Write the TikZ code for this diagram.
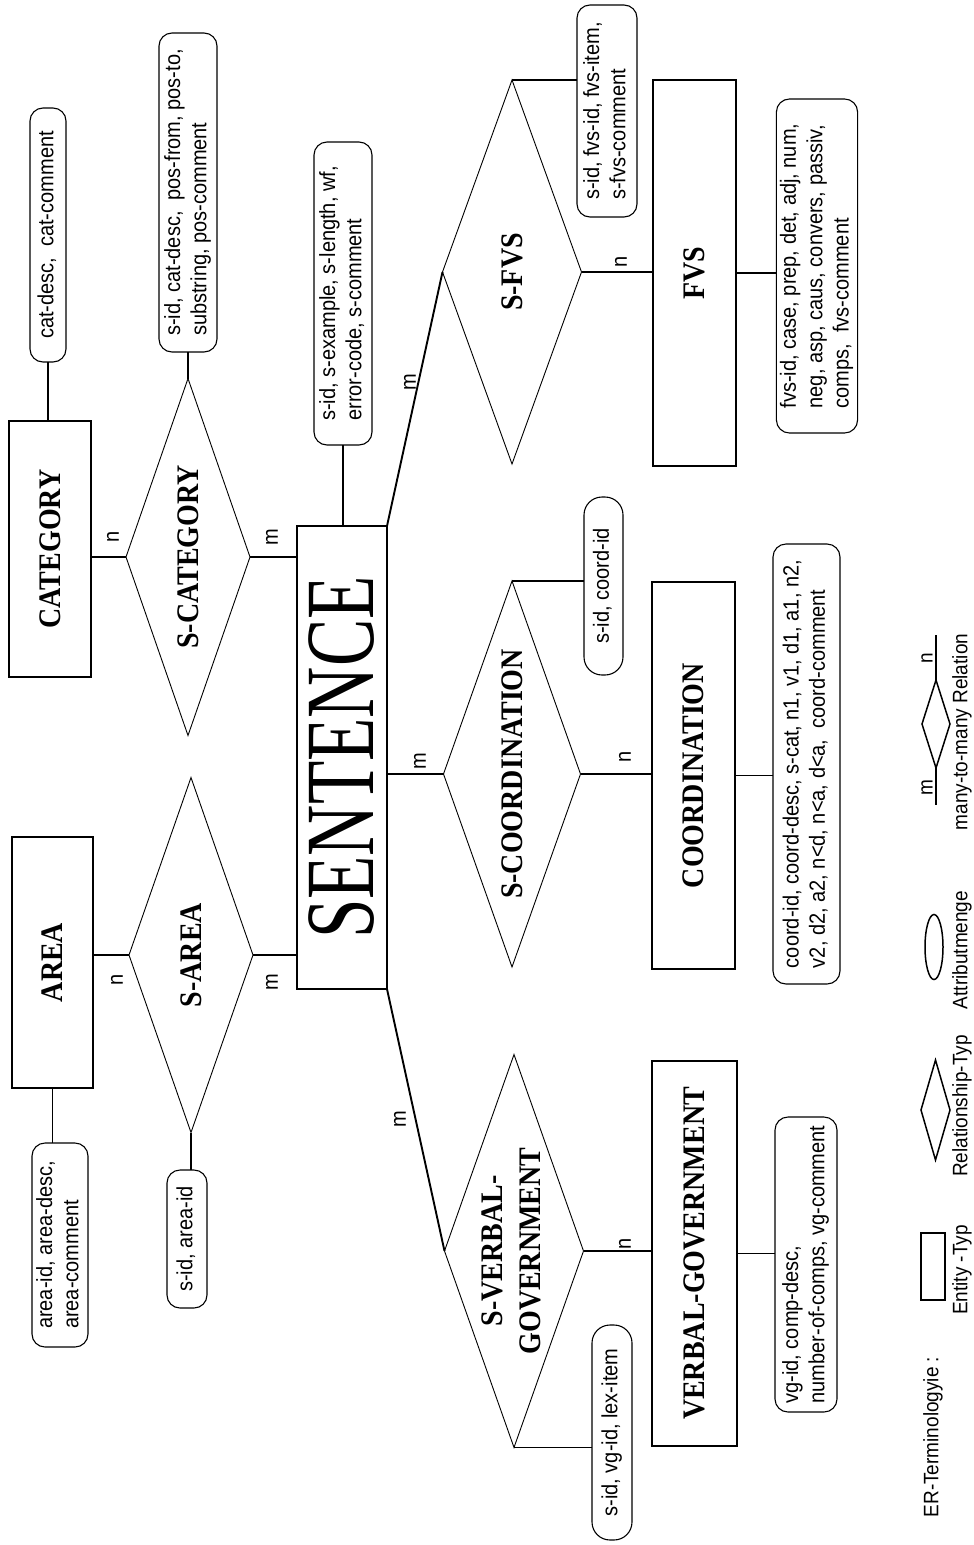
\documentclass[tikz,border=0pt]{standalone}
\usepackage{fontspec}
\setmainfont{Liberation Serif}
\setsansfont{Liberation Sans}
\usepackage{graphicx}
\usetikzlibrary{shapes.geometric}
\newcommand{\rtx}[2][1.12]{\rotatebox{90}{\scalebox{1}[#1]{#2}}}
\newcommand{\rtl}[2][1.1]{\rotatebox{90}{\scalebox{1}[#1]{\begin{tabular}{@{}l@{}}#2\end{tabular}}}}
\newcommand{\rtc}[2][1.12]{\rotatebox{90}{\scalebox{1}[#1]{\begin{tabular}{@{}c@{}}#2\end{tabular}}}}
\begin{document}
\begin{tikzpicture}[x=1pt,y=-1pt,
 ent/.style={draw, line width=2.6pt, inner sep=0pt, outer sep=0pt, font=\bfseries\fontsize{28}{34}\selectfont},
 rel/.style={draw, diamond, line width=0.9pt, inner sep=0pt, outer sep=0pt},
 rlab/.style={font=\bfseries\fontsize{28}{34}\selectfont, inner sep=0pt},
 attr/.style={draw, rounded corners=13pt, line width=1.1pt, inner sep=1pt, outer sep=0pt, font=\sffamily\fontsize{20}{24}\selectfont},
 card/.style={font=\sffamily\fontsize{20}{24}\selectfont, inner sep=0pt},
 conn/.style={line width=1.4pt},
 diag/.style={line width=1.9pt},
 leg/.style={font=\sffamily\fontsize{19}{23}\selectfont, inner sep=0pt}]
\useasboundingbox[fill=white] (0,0) rectangle (974,1545);

% entities
\node[ent, minimum width=82pt, minimum height=256pt] (cat) at (50,549) {\rtx{CATEGORY}};
\node[ent, minimum width=81pt, minimum height=251pt] (area) at (52.5,962.5) {\rtx{AREA}};
\node[ent, minimum width=90pt, minimum height=463pt, font=\fontsize{71}{80}\selectfont] (sent) at (342,757.5) {\rtx[1.38]{SENTENCE}};
\node[ent, minimum width=83pt, minimum height=386pt] (fvs) at (694.5,273) {\rtx{FVS}};
\node[ent, minimum width=83pt, minimum height=387pt] (coord) at (693.5,775.5) {\rtx{COORDINATION}};
\node[ent, minimum width=85pt, minimum height=385pt] (vg) at (694.5,1253.5) {\rtx{VERBAL-GOVERNMENT}};

% relationships
\node[rel, minimum width=124pt, minimum height=357pt] (scat) at (188,557) {};
\node[rlab] (scatl) at (scat) {\rtx{S-CATEGORY}};
\node[rel, minimum width=124pt, minimum height=355pt] (sarea) at (191,955) {};
\node[rlab] (sareal) at (sarea) {\rtx{S-AREA}};
\node[rel, minimum width=139pt, minimum height=384pt] (sfvs) at (512,272) {};
\node[rlab] (sfvsl) at (sfvs) {\rtx{S-FVS}};
\node[rel, minimum width=137pt, minimum height=386pt] (scoord) at (512,774) {};
\node[rlab] (scoordl) at (scoord) {\rtx{S-COORDINATION}};
\node[rel, minimum width=139pt, minimum height=393pt] (svg) at (514,1251) {};
\node[rlab] (svgl) at (svg) {\rtc{S-VERBAL-\\GOVERNMENT}};

% attributes
\node[attr, minimum width=36pt, minimum height=254pt] (acat) at (48,235) {\rtl{cat-desc,~ cat-comment}};
\node[attr, minimum width=58pt, minimum height=319pt] (ascat) at (188,192.5) {\rtl{s-id, cat-desc,~ pos-from, pos-to,\\substring, pos-comment}};
\node[attr, minimum width=58pt, minimum height=303pt] (asent) at (343,293.5) {\rtl{s-id, s-example, s-length, wf,\\error-code, s-comment}};
\node[attr, minimum width=60pt, minimum height=212pt] (asfvs) at (607,111) {\rtl{s-id, fvs-id, fvs-item,\\s-fvs-comment}};
\node[attr, minimum width=78pt, minimum height=334pt] (afvs) at (817,266) {\rtl{fvs-id, case, prep, det, adj, num,\\neg, asp, caus, convers, passiv,\\comps,~ fvs-comment}};
\node[attr, minimum width=39pt, minimum height=178pt, rounded corners=18pt] (ascoord) at (603.5,586) {\rtl{s-id, coord-id}};
\node[attr, minimum width=67pt, minimum height=440pt] (acoord) at (806.5,764) {\rtl{coord-id, coord-desc, s-cat, n1, v1, d1, a1, n2,\\v2, d2, a2, n<d, n<a, d<a,~ coord-comment}};
\node[attr, minimum width=56pt, minimum height=204pt] (aarea) at (60,1245) {\rtl{area-id, area-desc,\\area-comment}};
\node[attr, minimum width=40pt, minimum height=138pt] (asarea) at (187,1239) {\rtl{s-id, area-id}};
\node[attr, minimum width=40pt, minimum height=215pt, rounded corners=18pt] (asvg) at (612,1432.5) {\rtl{s-id, vg-id, lex-item}};
\node[attr, minimum width=62pt, minimum height=295pt] (avg) at (806,1264.5) {\rtl{vg-id, comp-desc,\\number-of-comps, vg-comment}};

% connectors
\draw[conn] (acat.south) -- (acat.south |- cat.north);
\draw[conn] (ascat.south) -- (scat.north);
\draw[conn] (cat.east |- scat.west) -- (scat.west);
\draw[conn] (scat.east) -- (scat.east -| sent.west);
\draw[conn] (asent.south) -- (asent.south |- sent.north);
\draw[diag] (sent.north east) -- (sfvs.west);
\draw[conn] (sfvs.north) -- (sfvs.north -| asfvs.west);
\draw[conn] (sfvs.east) -- (sfvs.east -| fvs.west);
\draw[conn] (fvs.east) -- (fvs.east -| afvs.west);
\draw[conn] (sent.east |- scoord.west) -- (scoord.west);
\draw[conn] (scoord.north) -- (scoord.north -| ascoord.west);
\draw[conn] (scoord.east) -- (scoord.east -| coord.west);
\draw[conn] (coord.east) -- (coord.east -| acoord.west);
\draw[diag] (sent.south east) -- (svg.west);
\draw[conn] (svg.south) -- (svg.south -| asvg.west);
\draw[conn] (svg.east) -- (svg.east -| vg.west);
\draw[conn] (vg.east) -- (vg.east -| avg.west);
\draw[conn] (area.east |- sarea.west) -- (sarea.west);
\draw[conn] (sarea.east) -- (sarea.east -| sent.west);
\draw[conn] (area.south) -- (area.south |- aarea.north);
\draw[conn] (sarea.south) -- (sarea.south |- asarea.north);

% cardinalities
\node[card] (c1) at (113,537) {\rtx[1.1]{n}};
\node[card] (c2) at (272,537) {\rtx[1.1]{m}};
\node[card] (c3) at (117,980) {\rtx[1.1]{n}};
\node[card] (c4) at (272,982) {\rtx[1.1]{m}};
\node[card] (c5) at (400,1119) {\rtx[1.1]{m}};
\node[card] (c6) at (420,761) {\rtx[1.1]{m}};
\node[card] (c7) at (410,382) {\rtx[1.1]{m}};
\node[card] (c8) at (621,262) {\rtx[1.1]{n}};
\node[card] (c9) at (625,757) {\rtx[1.1]{n}};
\node[card] (c10) at (625,1244) {\rtx[1.1]{n}};

% legend
\node[leg] (lt) at (933,1437) {\rtx[1.1]{ER-Terminologyie :}};
\node[draw, line width=1.5pt, minimum width=24pt, minimum height=67pt, inner sep=0pt] (le) at (933,1266.5) {};
\node[leg] (let) at (962,1270) {\rtx[1.1]{Entity -Typ}};
\node[rel, line width=1.5pt, minimum width=29pt, minimum height=100pt] (lr) at (935.5,1110) {};
\node[leg] (lrt) at (962,1106) {\rtx[1.1]{Relationship-Typ}};
\node[draw, ellipse, line width=1.5pt, minimum width=18pt, minimum height=65pt, inner sep=0pt] (la) at (934,947) {};
\node[leg] (lat) at (962,950) {\rtx[1.1]{Attributmenge}};
\node[rel, line width=1.5pt, minimum width=28pt, minimum height=88pt] (lm) at (936,724) {};
\coordinate (lmtop) at (936,635);
\coordinate (lmbot) at (936,805);
\draw[line width=1.5pt] (lmtop) -- (lm.north);
\draw[line width=1.5pt] (lm.south) -- (lmbot);
\node[leg] (lmn) at (927,658) {\rtx[1.1]{n}};
\node[leg] (lmm) at (927,788) {\rtx[1.1]{m}};
\node[leg] (lmt) at (962,732) {\rtx[1.1]{many-to-many Relation}};
\end{tikzpicture}
\end{document}
